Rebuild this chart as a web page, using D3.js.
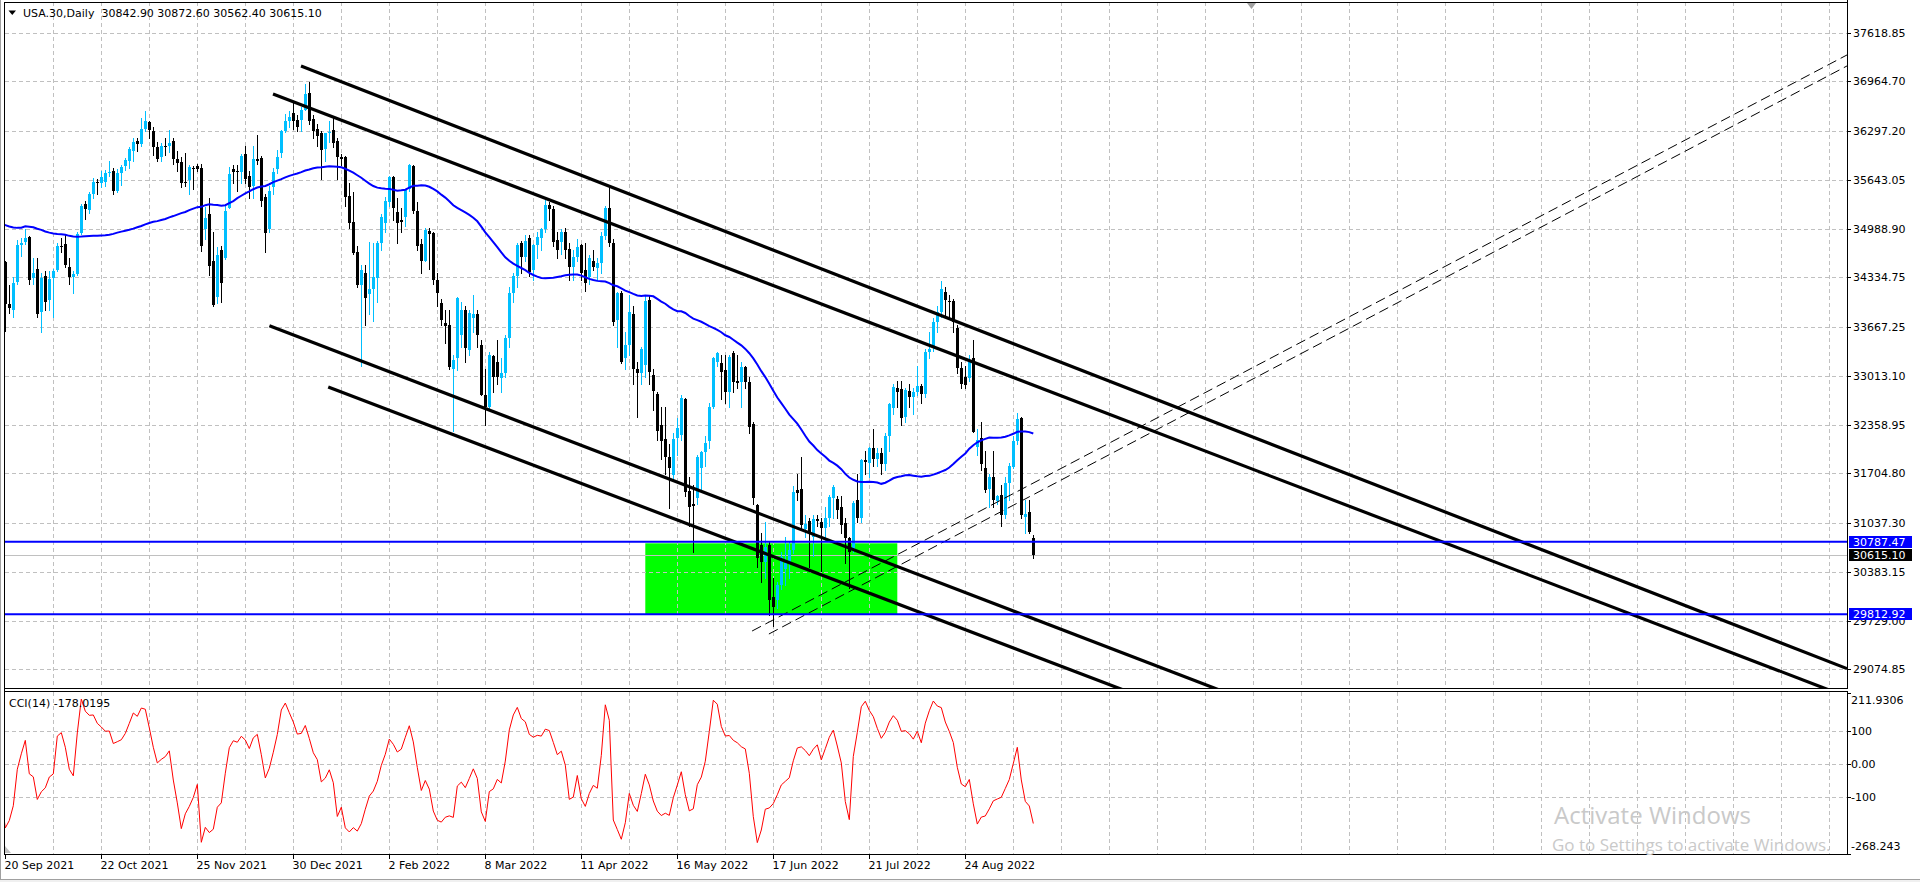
<!DOCTYPE html>
<html><head><meta charset="utf-8">
<script src="https://cdn.jsdelivr.net/npm/d3@7"></script>
<style>html,body{margin:0;padding:0;background:#fff;overflow:hidden}
text{font-family:"DejaVu Sans",sans-serif;font-size:11px}</style>
</head><body><svg id="c" width="1920" height="882"></svg>
<script>
// ---------------- DATA ----------------
// Daily bars USA.30. First 50 bars (Jul 12 - Sep 17 2021) are history off the left edge,
// used only by the indicators. Visible bars start at 20 Sep 2021.
const historyBars = 50;
const open = [
 34880,34990,34889,34933,34987, 34688,33962,34512,34798,34823, 35062,35144,35059,34931,35085,
 34935,34838,35117,34793,35065, 35209,35102,35265,35485,35500, 35516,35626,35343,34961,34894,
 35120,35336,35367,35406,35214, 35456,35400,35361,35313,35444, 35369,35360,35100,35031,34879,
 34608,34870,34578,34814,34751,
 34540,33980,33900,34270,34770, 34810,34880,34330,34450,33870, 34350,34030,34330,34430,34760,
 34780,34480,34340,34380,34935, 35320,35240,35460,35610,35603, 35620,35741,35763,35500,35732,
 35830,35900,36030,36160,36120, 36330,36420,36300,36080,35947, 36100,36095,36160,35920,35880,
 35620,35640,35810,35830,35800, 34980,35190,34560,34070,34700, 34590,35270,35790,35760,35754,
 35990,35700,35560,35930,35940, 35420,34990,35550,35790, 36000,36305,36430,36537,36448,
 36448,36585,36806,36458,36323, 36270,36060,36280,36314,36167, 35952,35947,35430,35085,34680,
 34233,34390,34110,34175,34322, 34793,35060,35350,35685,35216, 35100,35150,35518,35833,35226,
 34783,34555,34960,34927,34300, 33987,33720,33696,33100,33250, 33560,33897,33361,33790,33840,
 33427,32757,32600,33280,33200, 32990,33050,33517,34120,34358, 34793,34605,34860,34435,34770,
 34860,34980,35310,35250,34835, 34815,34948,34715,34478,34605, 34770,34435,34345,34560,
 34460,34525,34895,35273,34800, 33763,34121,33249,33427,33843, 33100,33047,33160,34031,33024,
 32770,32354,32162,31920,31683, 32175,32220,32698,31472,31290, 31369,31780,31995,32143,32590,
 33200,33182,33092,32800,33316, 32950,32935,33136,32935,32367, 31280,30743,30519,30743,30050,
 30005,30206,30420,30500,30677, 31480,31490,30960,31069,30850, 31097,31055,30967,31101,31370,
 31356,31257,31034,30832,30676, 31347,31101,31890,31847,32040, 31900,31980,31830,32206,32577,
 32850,32833,32465,32810,32726, 32800,32880,32774,33338,33405, 33740,33875,34143,34020,34020,
 33652,33115,33000,32980,33249, 32062,32175,31771,31490,31660, 31340,31414,31146,31580,31794,
 32138,32444,31120,31190,30842.90
];
const high = [
 35010,35040,35080,35000,35090, 34700,34600,34830,34880,35080, 35150,35170,35100,35170,35090,
 35130,35150,35120,35090,35260, 35220,35350,35510,35520,35540, 35640,35630,35400,35050,35180,
 35410,35430,35470,35410,35500, 35520,35450,35500,35480,35450, 35400,35380,35120,35100,35080,
 35000,34950,34850,34860,34780,
 34560,34230,34340,34840,34870, 34990,34890,34590,34600,34400, 34420,34420,34450,34800,34860,
 34900,34600,34420,34950,35320, 35360,35480,35670,35660,35760, 35780,35900,35800,35790,35850,
 35940,36080,36200,36200,36470, 36565,36440,36350,36150,36140, 36200,36320,36200,36030,35950,
 36000,35840,35830,35860,35860, 35280,35400,34950,34740,34760, 35300,35820,35850,35850,35990,
 36100,35760,36100,36248,35960, 35450,35560,35800,36040, 36320,36530,36570,36680,36520,
 36620,36934,36952,36520,36400, 36300,36280,36440,36480,36200, 35990,35960,35600,35486,34760,
 34500,34500,34815,34800,34820, 35180,35420,35700,35700,35400, 35260,35520,35860,35850,35350,
 34850,35000,35000,34950,34400, 34050,33900,33900,33300,34076, 34000,33950,33900,34100,33900,
 33500,33100,33330,33300,33500, 33250,33560,34200,34400,34800, 34830,34900,34900,34780,34950,
 35000,35372,35350,35300,34950, 34980,35000,34800,34700,34850, 34790,34800,34640,34700,
 34600,34950,35300,35563,34850, 34140,34150,33600,34100,33950, 33200,33400,34100,34100,33100,
 32800,32600,32600,32100,32250, 32450,32750,32720,31650,31550, 31950,32000,32200,32650,33260,
 33330,33300,33300,33300,33350, 33300,33200,33150,33000,32400, 31300,30900,31050,30800,30300,
 30250,30650,30850,30800,31540, 31700,31930,31150,31100,31150, 31150,31100,31250,31420,31550,
 31400,31400,31100,30850,31330, 31700,31900,32000,32060,32300, 32050,32050,32250,32650,32900,
 32950,32950,32850,32900,32850, 33150,32900,33370,33600,33790, 33950,34281,34200,34100,34050,
 33700,33200,33150,33300,33500, 32300,32400,32000,31700,32000, 31420,31550,31650,31850,32200,
 32520,32460,31350,31350,30872.60
];
const low = [
 34830,34880,34850,34770,34650, 33740,33900,34500,34700,34820, 34950,34820,34880,34930,34760,
 34800,34750,34770,34780,35050, 35030,35100,35260,35400,35440, 35300,35200,34930,34690,34850,
 35120,35300,35340,35190,35200, 35350,35280,35300,35300,35280, 35320,35030,34900,34870,34600,
 34600,34520,34490,34560,34450,
 33613,33860,33800,34250,34620, 34790,34250,34250,33800,33600, 33900,33900,33800,34420,34680,
 34470,34250,34130,34370,34920, 35120,35200,35400,35450,35550, 35560,35700,35450,35480,35580,
 35780,35800,35900,36030,36100, 36300,36200,35980,35900,35900, 35980,36020,35860,35760,35550,
 35560,35450,35520,35760,34690, 34850,34370,33950,33990,34000, 34580,35260,35600,35500,35600,
 35600,35400,35400,35860,35300, 34680,34950,35460,35740, 35950,36290,36350,36330,36300,
 36300,36580,36400,36200,36100, 35650,35900,36150,36080,35650, 35850,35300,35000,34650,34200,
 33150,33700,33850,33750,34000, 34700,34950,35300,35100,34800, 34950,35030,35500,35200,34700,
 34400,34550,34450,34250,33950, 33700,33450,33100,32272,33092, 33400,33200,33300,33600,33400,
 32750,32354,32580,32800,32900, 32800,33000,33400,34000,34200, 34400,34560,34350,34300,34600,
 34700,34950,35100,34750,34600, 34650,34600,34300,34300,34550, 34300,34150,34250,34430,
 34300,34400,34850,34750,33700, 33400,33180,33100,33300,32900, 32465,32900,33000,32900,32550,
 32150,31900,31700,31235,31600, 31950,32150,31400,31000,30653, 31300,31500,31800,32050,32580,
 33150,32700,32650,32600,32800, 32850,32600,32850,32250,31300, 30450,30250,30300,29800,29660,
 29900,30150,30200,30300,30640, 31350,30940,30850,30452,30600, 31000,30400,30800,31000,31100,
 31100,30900,30500,30165,30650, 31050,31050,31700,31650,31800, 31800,31700,31750,32000,32500,
 32600,32350,32400,32600,32500, 32750,32650,32733,33250,33350, 33600,33800,33800,33800,33600,
 33050,32850,32850,32950,32260, 31950,31750,31450,31250,31250, 31300,31000,31100,31350,31780,
 32100,31100,30900,30900,30562.40
];
const close = [
 34996,34889,34933,34987,34688, 33962,34512,34798,34823,35062, 35144,35059,34931,35085,34935,
 34838,35117,34793,35065,35209, 35102,35265,35485,35500,35516, 35626,35343,34961,34894,35120,
 35336,35367,35406,35214,35456, 35400,35361,35313,35444,35369, 35360,35100,35031,34879,34608,
 34870,34578,34814,34751,34584,
 33980,33919,34258,34765,34798, 34870,34300,34390,33844,34326, 34002,34314,34417,34754,34746,
 34496,34340,34377,34912,35295, 35258,35457,35609,35603,35677, 35741,35756,35490,35731,35820,
 35913,36053,36158,36124,36328, 36432,36320,36079,35921,36100, 36087,36142,35931,35870,35601,
 35619,35813,35804,35790,34760, 35135,34483,33968,34640,34260, 35227,35719,35754,35754,35971,
 35650,35544,35927,35898,35365, 34932,35493,35754,35950, 36302,36430,36488,36438,36358,
 36585,36800,36438,36305,36233, 36045,36270,36290,36135,35952, 35930,35420,35063,34667,34233,
 34435,34055,34180,34336,34793, 35150,35365,35685,35273,35060, 35080,35518,35843,35226,34760,
 34555,34970,34920,34300,34121, 33763,33687,33137,33224,34058, 33893,33383,33853,33850,33561,
 32757,32600,33293,33000,33000, 33050,33517,34120,34358,34770, 34605,34828,34412,34770,34882,
 34980,35307,35250,34815,34700, 34948,34700,34478,34605,34738, 34390,34255,34590,34480,
 34525,34895,35273,34793,33740, 34121,33200,33427,33875,33100, 33047,33374,34020,33069,32814,
 32277,32143,31928,31780,32162, 32310,32712,31460,31257,31262, 31928,31995,32108,32590,33249,
 33316,33069,32800,33271,32935, 32920,33136,32935,32331,31369, 30565,30519,30720,30005,29915,
 30200,30586,30500,30677,31458, 31439,31011,31029,30920,31097, 31060,30967,31101,31383,31525,
 31213,31011,30832,30653,31303, 31101,31884,31860,32040,31897, 31980,31830,32206,32636,32868,
 32800,32443,32824,32730,32803, 32880,32774,33338,33370,33740, 33875,34175,34031,34000,33740,
 33115,32904,32890,33203,32264, 32152,31830,31481,31660,31347, 31400,31146,31580,31803,32138,
 32430,31146,31160,30920,30615.10
];
// indicator settings
const maPeriod = 50, cciPeriod = 14;
// price axis ticks
const priceTicks = [37618.85,36964.70,36297.20,35643.05,34988.90,34334.75,33667.25,33013.10,32358.95,31704.80,31037.30,30383.15,29729.00,29074.85];
const priceTickLabels = ["37618.85","36964.70","36297.20","35643.05","34988.90","34334.75","33667.25","33013.10","32358.95","31704.80","31037.30","30383.15","29729.00","29074.85"];
const cciTicks = [211.9306,100,0,-100,-268.243];
const cciTickLabels = ["211.9306","100","0.00","-100","-268.243"];
const cciGrid = [100,0,-100];
// time axis (visible bar index)
const timeTickBars = [0,24,48,72,96,120,144,168,192,216,240];
const timeTickLabels = ["20 Sep 2021","22 Oct 2021","25 Nov 2021","30 Dec 2021","2 Feb 2022","8 Mar 2022","11 Apr 2022","16 May 2022","17 Jun 2022","21 Jul 2022","24 Aug 2022"];
const gridEveryBars = 12;
// objects: [bar1, price1, bar2, price2]
const channelLines = [[73.93,37172.7,459.4,29105.6],[66.93,36796.9,366.93,30627.7],[66.03,33686.8,366.03,27509.8],[80.73,32864.0,380.73,26727.2]];
const dashedLines = [[186.7,29588.8,460.4,37320.3],[190.9,29548.5,460.4,37172.7]];
const levels = [30787.47, 29812.92];
const levelLabels = ["30787.47","29812.92"];
const bidPrice = 30615.10, bidLabel = "30615.10";
const zoneBars = [160,223], zonePrices = [29812.92,30766];
const headerText = "USA.30,Daily  30842.90 30872.60 30562.40 30615.10";
const cciText = "CCI(14) -178.0195";

// ---------------- LAYOUT ----------------
const svg = d3.select("#c");
const Lx=5, Rx=1847, PT=2, PB=688, CT=692, CB=854;
const N = close.length;
const x = d3.scaleLinear().domain([-0.075,460.425]).range([Lx,Rx]);
const y = d3.scaleLinear().domain([28823.71,38058.61]).range([PB,0]);
const yc = d3.scaleLinear().domain([-268.243,211.9306]).range([853.5,693.3]);
const vx = i => i - historyBars;

svg.append("rect").attr("width",1920).attr("height",882).attr("fill","#fff");
const defs = svg.append("defs");
defs.append("clipPath").attr("id","pc").append("rect").attr("x",Lx).attr("y",PT).attr("width",Rx-Lx).attr("height",PB-PT);
defs.append("clipPath").attr("id","cc").append("rect").attr("x",Lx).attr("y",CT).attr("width",Rx-Lx).attr("height",CB-CT);

const P = svg.append("g").attr("clip-path","url(#pc)");
const C = svg.append("g").attr("clip-path","url(#cc)");

// zone
P.append("rect").attr("x",x(zoneBars[0])).attr("width",x(zoneBars[1])-x(zoneBars[0]))
 .attr("y",y(zonePrices[1])).attr("height",y(zonePrices[0])-y(zonePrices[1])).attr("fill","#00ff00");

// grid
const gridBars = d3.range(gridEveryBars, 461, gridEveryBars);
const gs = {stroke:"#c0c0c0","stroke-dasharray":"4,3","shape-rendering":"crispEdges"};
function sty(sel,o){for(const k in o) sel.attr(k,o[k]); return sel;}
gridBars.forEach(b=>{
  const xx=Math.round(x(b))+0.5;
  sty(P.append("line").attr("x1",xx).attr("x2",xx).attr("y1",PT).attr("y2",PB),gs);
  sty(C.append("line").attr("x1",xx).attr("x2",xx).attr("y1",CT).attr("y2",CB),gs);
});
priceTicks.forEach(p=>{
  const yy=Math.round(y(p))+0.5;
  sty(P.append("line").attr("x1",Lx).attr("x2",Rx).attr("y1",yy).attr("y2",yy),gs);
});
cciGrid.forEach(v=>{
  const yy=Math.round(yc(v))+0.5;
  sty(C.append("line").attr("x1",Lx).attr("x2",Rx).attr("y1",yy).attr("y2",yy),gs);
});

// bid line
P.append("line").attr("x1",Lx).attr("x2",Rx).attr("y1",Math.round(y(bidPrice))+0.5).attr("y2",Math.round(y(bidPrice))+0.5)
 .attr("stroke","#c0c0c0").attr("shape-rendering","crispEdges");

// candles
const bull="#00bfff", bear="#000000";
const cg = P.append("g").attr("shape-rendering","crispEdges");
for(let i=0;i<N;i++){
  const cx=Math.round(x(vx(i)));
  const up=close[i]>=open[i], col=up?bull:bear;
  cg.append("line").attr("x1",cx+0.5).attr("x2",cx+0.5).attr("y1",Math.round(y(high[i]))).attr("y2",Math.round(y(low[i]))+1).attr("stroke",col);
  const yt=Math.round(y(Math.max(open[i],close[i]))), yb=Math.round(y(Math.min(open[i],close[i])));
  cg.append("rect").attr("x",cx-1).attr("width",3).attr("y",yt).attr("height",Math.max(1,yb-yt)).attr("fill",col);
}

// SMA
const ma=[];
for(let i=maPeriod-1;i<N;i++){ let s=0; for(let k=i-maPeriod+1;k<=i;k++) s+=close[k]; ma.push([vx(i),s/maPeriod]); }
P.append("path").datum(ma.filter(d=>d[0]>=-2)).attr("fill","none").attr("stroke","#0000ff").attr("stroke-width",2)
 .attr("d",d3.line().x(d=>x(d[0])).y(d=>y(d[1])));

// trend lines (rays to right edge)
const xMaxBar = x.domain()[1];
function ray(l){ const s=(l[3]-l[1])/(l[2]-l[0]); return [[l[0],l[1]],[xMaxBar,l[1]+s*(xMaxBar-l[0])]]; }
channelLines.forEach(l=>{ const r=ray(l);
  P.append("line").attr("x1",x(r[0][0])).attr("y1",y(r[0][1])).attr("x2",x(r[1][0])).attr("y2",y(r[1][1]))
   .attr("stroke","#000").attr("stroke-width",3.2);
});
dashedLines.forEach(l=>{ const r=ray(l);
  P.append("line").attr("x1",x(r[0][0])).attr("y1",y(r[0][1])).attr("x2",x(r[1][0])).attr("y2",y(r[1][1]))
   .attr("stroke","#000").attr("stroke-width",1).attr("stroke-dasharray","10,5");
});

// horizontal levels
levels.forEach(p=>{
  P.append("line").attr("x1",Lx).attr("x2",Rx).attr("y1",y(p)).attr("y2",y(p)).attr("stroke","#0000ff").attr("stroke-width",2);
});

// CCI
const tp=close.map((c,i)=>(high[i]+low[i]+c)/3);
const cci=[];
for(let i=2*cciPeriod;i<N;i++){
  let s=0; for(let k=i-cciPeriod+1;k<=i;k++) s+=tp[k]; const m=s/cciPeriod;
  let d=0; for(let k=i-cciPeriod+1;k<=i;k++) d+=Math.abs(tp[k]-m); d/=cciPeriod;
  cci.push([vx(i),(tp[i]-m)/(0.015*d)]);
}
C.append("path").datum(cci.filter(d=>d[0]>=-2)).attr("fill","none").attr("stroke","#ff0000").attr("stroke-width",1)
 .attr("d",d3.line().x(d=>x(d[0])).y(d=>yc(d[1])));

// frames
const fr = svg.append("g").attr("shape-rendering","crispEdges").attr("stroke","#000");
fr.append("line").attr("x1",Lx).attr("x2",Rx).attr("y1",PT+0.5).attr("y2",PT+0.5);
fr.append("line").attr("x1",Lx).attr("x2",Rx+1).attr("y1",PB+0.5).attr("y2",PB+0.5);
fr.append("line").attr("x1",Lx).attr("x2",Rx+1).attr("y1",CT-0.5).attr("y2",CT-0.5);
fr.append("line").attr("x1",Lx).attr("x2",Rx+1).attr("y1",CB+0.5).attr("y2",CB+0.5);
fr.append("line").attr("x1",Rx+0.5).attr("x2",Rx+0.5).attr("y1",0).attr("y2",PB+1);
fr.append("line").attr("x1",Rx+0.5).attr("x2",Rx+0.5).attr("y1",CT-1).attr("y2",CB+1);
fr.append("line").attr("x1",Lx-0.5).attr("x2",Lx-0.5).attr("y1",PT).attr("y2",CB+1);
svg.append("line").attr("x1",0.5).attr("x2",0.5).attr("y1",0).attr("y2",880).attr("stroke","#a0a0a0");
svg.append("rect").attr("x",0).attr("y",879).attr("width",1920).attr("height",3).attr("fill","#f0f0f0");
svg.append("line").attr("x1",0).attr("x2",1920).attr("y1",879.5).attr("y2",879.5).attr("stroke","#a0a0a0");

// price axis
const boxH = 12;
const boxTops = levels.map(p=>Math.round(y(p))-6).concat([Math.round(y(bidPrice))-6]);
// labels partly hidden under a marker box keep only their visible part
const axisClip = defs.append("clipPath").attr("id","ac");
priceTicks.forEach((p,i)=>{
  const yy=Math.round(y(p))+0.5;
  svg.append("line").attr("x1",Rx).attr("x2",Rx+4).attr("y1",yy).attr("y2",yy).attr("stroke","#000").attr("shape-rendering","crispEdges");
  const t = svg.append("text").attr("x",1853).attr("y",yy).attr("dy","0.36em").text(priceTickLabels[i]);
  const hit = boxTops.find(bt => yy > bt && yy < bt+boxH+6);
  if (hit !== undefined) {
    const id = "lc"+i;
    defs.append("clipPath").attr("id",id).append("rect").attr("x",1849).attr("y",hit+boxH).attr("width",71).attr("height",10);
    t.attr("clip-path","url(#"+id+")");
  }
});
levels.forEach((p,i)=>{
  const yy=y(p);
  svg.append("rect").attr("x",1849).attr("y",Math.round(yy)-6).attr("width",63).attr("height",boxH).attr("fill","#0000ff");
  svg.append("text").attr("x",1853).attr("y",yy).attr("dy","0.36em").attr("fill","#fff").text(levelLabels[i]);
});
{ const yy=y(bidPrice);
  svg.append("rect").attr("x",1849).attr("y",Math.round(yy)-6).attr("width",63).attr("height",boxH).attr("fill","#000");
  svg.append("text").attr("x",1853).attr("y",yy).attr("dy","0.36em").attr("fill","#fff").text(bidLabel); }

// cci axis
cciTicks.forEach((v,i)=>{
  const yy=Math.min(Math.max(yc(v),CT+8),CB-8);
  svg.append("line").attr("x1",Rx).attr("x2",Rx+4).attr("y1",Math.round(yc(v))+0.5).attr("y2",Math.round(yc(v))+0.5).attr("stroke","#000");
  svg.append("text").attr("x",1851).attr("y",yy).attr("dy","0.36em").text(cciTickLabels[i]);
});

// time axis
timeTickBars.forEach((b,i)=>{
  const xx=Math.round(x(b))+0.5;
  svg.append("line").attr("x1",xx).attr("x2",xx).attr("y1",CB).attr("y2",CB+5).attr("stroke","#000").attr("shape-rendering","crispEdges");
  svg.append("text").attr("x",xx-1).attr("y",865).attr("dy","0.36em").text(timeTickLabels[i]);
});

// header
svg.append("path").attr("d","M8.5,10.5 L16,10.5 L12.25,15 Z").attr("fill","#000");
svg.append("text").attr("x",23).attr("y",13).attr("dy","0.36em").style("white-space","pre").attr("xml:space","preserve").text(headerText);
svg.append("text").attr("x",9).attr("y",703).attr("dy","0.36em").text(cciText);
svg.append("path").attr("d","M1247,3 L1256,3 L1251.5,9 Z").attr("fill","#a0a0a0");
svg.append("path").attr("d","M5,846 L11,853 L5,853 Z").attr("fill","#c0c0c0");

// watermark
svg.append("text").attr("x",1554).attr("y",824).style("font-family","'Open Sans',sans-serif").style("font-size","24px").attr("fill","#c9c9c9").text("Activate Windows");
svg.append("text").attr("x",1552).attr("y",851).style("font-family","'Open Sans',sans-serif").style("font-size","17px").attr("fill","#c9c9c9").text("Go to Settings to activate Windows.");
</script></body></html>
